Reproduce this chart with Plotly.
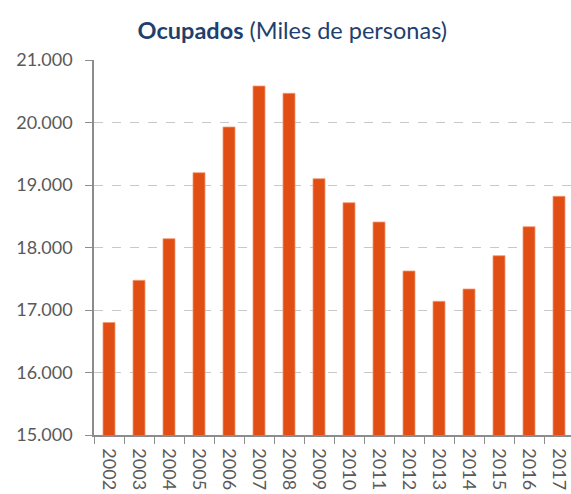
import plotly.graph_objects as go

years = ["2002", "2003", "2004", "2005", "2006", "2007", "2008", "2009",
         "2010", "2011", "2012", "2013", "2014", "2015", "2016", "2017"]
ocupados = [16800, 17475, 18141, 19197, 19928, 20584, 20467, 19101,
            18717, 18408, 17624, 17139, 17336, 17869, 18333, 18819]
y_ticks = [15000, 16000, 17000, 18000, 19000, 20000, 21000]

fig = go.Figure(go.Bar(
    x=years, y=ocupados, width=0.4,
    marker=dict(color="#E04E14", line=dict(color="#F29A73", width=0.8)),
))

fig.update_layout(
    width=571, height=494,
    margin=dict(l=94, r=0, t=60, b=59, autoexpand=False),
    paper_bgcolor="white", plot_bgcolor="white",
    separators=",.",
    showlegend=False,
    title=dict(
        text="<b>Ocupados</b> (Miles de personas)",
        x=0.512, xanchor="center", y=0.937, yanchor="middle",
        font=dict(family="Lato, Open Sans, sans-serif", size=23.5, color="#1F3F6E"),
    ),
    font=dict(family="Lato, Open Sans, sans-serif", color="#595959"),
)

fig.update_xaxes(
    type="category", range=[-0.5, 15.4], automargin=False,
    showline=True, linecolor="#8C8C8C", linewidth=1.5,
    ticks="outside", tickson="boundaries", ticklen=7, tickcolor="#8C8C8C",
    tickangle=90, tickfont=dict(size=18, color="#595959"),
    ticklabelstandoff=8,
    showgrid=False,
)
fig.update_yaxes(
    range=[15000, 21000], tickvals=y_ticks, tickformat=",d", automargin=False,
    showline=True, linecolor="#8C8C8C", linewidth=1.5,
    ticks="outside", ticklen=7, tickcolor="#8C8C8C",
    tickfont=dict(size=18, color="#595959"),
    ticklabelstandoff=9,
    showgrid=True, gridcolor="#C8C8C8", griddash="dash", gridwidth=1,
    zeroline=False,
)

fig.write_html("out.html", config={"displayModeBar": False},
               post_script="document.body.style.margin='0';document.body.style.overflow='hidden';")
